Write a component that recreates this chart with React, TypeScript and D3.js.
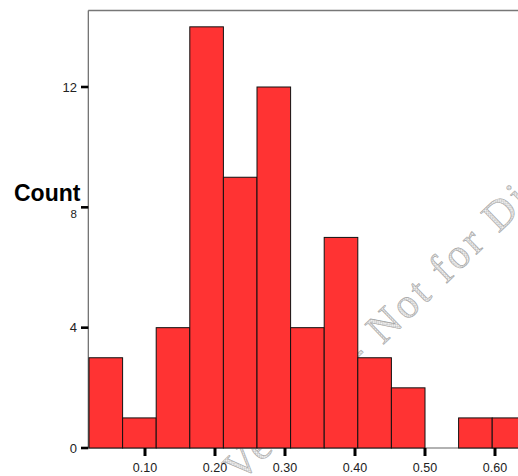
import React from "react";
import * as d3 from "d3";

const counts = [3, 1, 4, 14, 9, 12, 4, 7, 3, 2, 0, 1, 1];
const binStart = 0.02;
const binWidth = 0.048;
const xTicks = [0.1, 0.2, 0.3, 0.4, 0.5, 0.6];
const yTicks = [0, 4, 8, 12];
const yLabel = "Count";
const watermark = "Version - Not for Distribution";

export default function App() {
  const W = 518, H = 476;
  const x = d3.scaleLinear().domain([0.1, 0.6]).range([145, 495]);
  const y = d3.scaleLinear().domain([0, 12]).range([448, 87]);
  const left = x(0.019);
  const top = y(14.54);
  const font = "'Liberation Sans', Arial, sans-serif";
  const bins = counts.map((c, i) => ({ x0: binStart + i * binWidth, x1: binStart + (i + 1) * binWidth, c }));
  return (
    <svg width={W} height={H} style={{ position: "absolute", left: 0, top: 0, background: "#fff" }}>
      <defs>
        <pattern id="hatch" width="3" height="3" patternUnits="userSpaceOnUse">
          <rect width="3" height="3" fill="#f2f2f2" />
          <path d="M0,0 L3,3 M3,0 L0,3" stroke="#b8b8b8" strokeWidth="0.6" />
        </pattern>
      </defs>
      {/* watermark */}
      <text
        transform={`translate(240,483) rotate(-44)`}
        fontFamily="'Liberation Serif', 'Times New Roman', serif"
        fontSize={42}
        letterSpacing={3.5}
        fill="url(#hatch)"
        stroke="#a0a0a0"
        strokeWidth={0.6}
      >
        {watermark}
      </text>
      {/* frame */}
      <line x1={left} x2={W + 5} y1={top} y2={top} stroke="#777" strokeWidth={1.5} />
      <line x1={left} x2={left} y1={top} y2={y(0)} stroke="#666" strokeWidth={1.2} />
      <line x1={left} x2={W + 5} y1={y(0)} y2={y(0)} stroke="#999" strokeWidth={1.5} />
      {/* bars */}
      <g>
        {bins.filter(b => b.c > 0).map((b, i) => (
          <rect
            key={i}
            x={x(b.x0)}
            y={y(b.c)}
            width={x(b.x1) - x(b.x0)}
            height={y(0) - y(b.c)}
            fill="#FF3333"
            stroke="#111"
            strokeWidth={1}
          />
        ))}
      </g>
      {/* y ticks */}
      {yTicks.map(t => (
        <g key={t}>
          <line x1={81} x2={left} y1={y(t)} y2={y(t)} stroke="#000" strokeWidth={2.6} />
          <text
            x={77}
            y={y(t) + (t === 8 ? 7 : 0)}
            dy="0.35em"
            textAnchor="end"
            fontFamily={font}
            fontSize={t === 8 ? 11.5 : 13}
            fill="#222"
          >
            {t}
          </text>
        </g>
      ))}
      {/* x ticks */}
      {xTicks.map(t => (
        <g key={t}>
          <line x1={x(t)} x2={x(t)} y1={y(0)} y2={y(0) + 8} stroke="#000" strokeWidth={3} />
          <text x={x(t)} y={472} textAnchor="middle" fontFamily={font} fontSize={12.5} fill="#222">
            {t.toFixed(2)}
          </text>
        </g>
      ))}
      <text x={14} y={200.5} fontFamily={font} fontSize={23} fontWeight="bold" fill="#000">
        {yLabel}
      </text>
    </svg>
  );
}
